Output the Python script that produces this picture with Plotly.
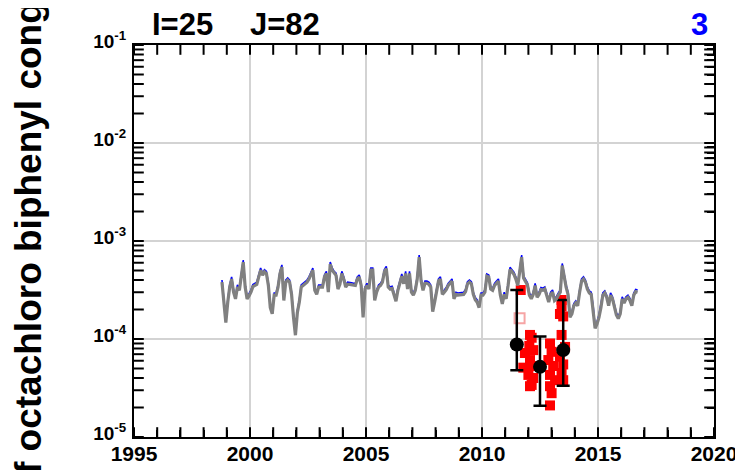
import numpy as np
import pandas as pd
import plotly.graph_objects as go

# ---------------- data ----------------
# monthly model values (units of 1e-4), Oct 1998 .. Sep 2016
model_e4 = [
    4.0, 2.5, 1.55, 2.5, 3.56, 4.3, 3.16, 2.7, 3.56, 3.3,
    4.5, 6.4, 3.56, 2.7, 2.9, 3.16, 3.6, 3.7, 3.8, 4.5,
    5.3, 4.7, 5.1, 4.9, 3.7, 2.2, 1.9, 2.95, 2.95, 3.56,
    4.9, 5.7, 2.6, 4.0, 4.2, 4.0, 3.0, 1.75, 1.15, 1.96,
    2.5, 3.56, 3.7, 3.8, 4.0, 4.3, 4.9, 5.3, 3.3, 3.0,
    3.56, 3.56, 3.56, 4.5, 4.9, 3.16, 6.1, 5.3, 4.9, 4.7,
    3.4, 3.8, 4.9, 4.3, 3.56, 3.8, 3.8, 3.75, 3.7, 3.7,
    4.3, 4.5, 3.7, 1.75, 3.4, 3.7, 3.4, 5.3, 5.3, 2.6,
    3.16, 3.56, 3.7, 4.0, 5.1, 5.5, 3.56, 3.4, 3.45, 3.0,
    2.55, 3.3, 3.85, 4.6, 3.85, 4.9, 3.4, 4.9, 3.16, 2.95,
    3.3, 4.3, 7.2, 4.1, 3.3, 3.9, 3.9, 3.8, 3.56, 2.0,
    2.5, 3.3, 4.1, 4.3, 3.0, 3.16, 3.35, 3.7, 3.9, 4.1,
    2.7, 3.0, 2.95, 2.95, 2.95, 3.0, 3.2, 3.85, 4.0, 3.85,
    3.0, 2.65, 2.5, 2.2, 2.95, 2.95, 3.16, 4.6, 4.5, 3.4,
    3.3, 3.7, 3.9, 4.1, 2.95, 2.4, 3.0, 2.7, 3.7, 5.4,
    5.1, 4.8, 4.3, 3.7, 5.1, 7.2, 4.4, 4.0, 3.75, 2.95,
    2.7, 3.0, 3.7, 2.8, 3.0, 3.35, 3.3, 3.4, 2.95, 2.5,
    3.0, 3.16, 2.6, 2.7, 2.95, 3.16, 5.9, 4.5, 3.56, 3.0,
    1.75, 1.9, 2.3, 2.45, 2.3, 3.16, 4.1, 4.3, 4.0, 3.4,
    3.1, 3.0, 2.15, 1.35, 1.5, 1.75, 2.2, 2.95, 3.1, 2.8,
    2.3, 2.95, 2.7, 2.15, 1.85, 1.7, 1.9, 2.7, 2.45, 2.7,
    2.8, 2.6, 2.3, 2.95, 3.2, 3.16,
]
model_start = "1998-10"

# individual observations (red filled squares)
obs_year = [2011.67, 2012.07, 2012.14, 2012.04, 2011.85, 2012.21, 2012.07, 2011.78,
            2012.14, 2012.00, 2012.21, 2012.14, 2012.07,
            2012.93, 2013.00, 2012.86, 2013.07, 2012.93, 2013.15, 2012.93, 2013.00, 2012.93,
            2013.43, 2013.43, 2013.36, 2013.50, 2013.43, 2013.58, 2013.36, 2013.50,
            2013.43, 2013.50]
obs_val = [3.16e-4, 1.1e-4, 1.03e-4, 8.5e-5, 7.2e-5, 7.7e-5, 6.1e-5, 5.1e-5,
           5.3e-5, 4.3e-5, 4.0e-5, 3.4e-5, 3.3e-5,
           9.0e-5, 7.4e-5, 6.1e-5, 5.3e-5, 4.3e-5, 3.8e-5, 3.3e-5, 2.8e-5, 2.1e-5,
           2.5e-4, 2.15e-4, 1.8e-4, 1.7e-4, 1.1e-4, 8.3e-5, 6.6e-5, 5.5e-5,
           4.5e-5, 3.8e-5]

# flagged observation (open pink square)
flag_year = [2011.62]
flag_val = [1.63e-4]

# annual means with ranges (black circles)
mean_year = [2011.5, 2012.5, 2013.5]
mean_val = [8.8e-5, 5.2e-5, 7.7e-5]
mean_lo = [4.8e-5, 2.09e-5, 3.34e-5]
mean_hi = [3.16e-4, 1.06e-4, 2.5e-4]

x_major = [1995, 2000, 2005, 2010, 2015, 2020]
x_minor = list(range(1995, 2021))
y_decades = [-5, -4, -3, -2, -1]

# ---------------- figure ----------------
FONT = "Liberation Sans, Arial, sans-serif"
TICK_LEN = 7
X_RANGE = [1995, 2020]
Y_RANGE = [-5, -1]
# the page body adds an 8 px offset, so the figure is 8 px smaller than the window
FIG_W, FIG_H = 735, 462
PLOT_L, PLOT_T = 134, 45          # plot-area corner as seen in the window
PLOT_W, PLOT_H = 580, 392

dates = pd.date_range(model_start, periods=len(model_e4), freq="MS")
model_x = dates.year + (dates.month - 0.5) / 12.0
model_y = [v * 1e-4 for v in model_e4]
minor_y = [m * 10.0 ** d for d in range(-5, -1) for m in range(1, 10)] + [0.1]

fig = go.Figure()

# model: blue line peeking out above the thick grey line
fig.add_trace(go.Scatter(x=model_x, y=model_y, mode="lines",
                         line=dict(color="#0000ff", width=1.6),
                         hoverinfo="skip", showlegend=False))
fig.add_trace(go.Scatter(x=model_x, y=model_y, mode="lines",
                         line=dict(color="#808080", width=3.2), yaxis="y2",
                         hoverinfo="skip", showlegend=False))

# inward tick marks (markers half-clipped at the plot edges)
tick_marker = dict(size=2 * TICK_LEN, color="black", line=dict(width=2, color="black"))
y_lo, y_hi = 10.0 ** Y_RANGE[0], 10.0 ** Y_RANGE[1]
fig.add_trace(go.Scatter(x=x_minor, y=[y_hi] * len(x_minor), mode="markers",
                         marker=dict(symbol="line-ns", **tick_marker),
                         cliponaxis=True, hoverinfo="skip", showlegend=False))
fig.add_trace(go.Scatter(x=x_minor, y=[y_lo] * len(x_minor), mode="markers", xaxis="x2",
                         marker=dict(symbol="line-ns", **tick_marker),
                         cliponaxis=True, hoverinfo="skip", showlegend=False))
fig.add_trace(go.Scatter(x=[X_RANGE[0]] * len(minor_y), y=minor_y, mode="markers",
                         marker=dict(symbol="line-ew", **tick_marker),
                         cliponaxis=True, hoverinfo="skip", showlegend=False))
fig.add_trace(go.Scatter(x=[X_RANGE[1]] * len(minor_y), y=minor_y, mode="markers", yaxis="y3",
                         marker=dict(symbol="line-ew", **tick_marker),
                         cliponaxis=True, hoverinfo="skip", showlegend=False))

fig.add_trace(go.Scatter(x=obs_year, y=obs_val, mode="markers",
                         marker=dict(symbol="square", size=10, color="#ff0000",
                                     line=dict(width=0)),
                         showlegend=False))
fig.add_trace(go.Scatter(x=flag_year, y=flag_val, mode="markers",
                         marker=dict(symbol="square-open", size=10, color="#f6a5a5",
                                     line=dict(width=2, color="#f6a5a5")),
                         showlegend=False))

err_plus = [h - v for h, v in zip(mean_hi, mean_val)]
err_minus = [v - l for v, l in zip(mean_val, mean_lo)]
fig.add_trace(go.Scatter(x=mean_year, y=mean_val, mode="markers",
                         marker=dict(symbol="circle", size=14, color="black"),
                         error_y=dict(type="data", array=err_plus, arrayminus=err_minus,
                                      color="black", thickness=2.5, width=6.5),
                         showlegend=False))

tick_axis = dict(ticks="outside", ticklen=TICK_LEN, tickwidth=2, tickcolor="black",
                 showticklabels=False, showgrid=False, showline=False, zeroline=False,
                 anchor="free", automargin=False)

fig.update_layout(
    width=FIG_W, height=FIG_H,
    margin=dict(l=PLOT_L - 8, r=FIG_W - (PLOT_L - 8) - PLOT_W, t=PLOT_T - 8,
                b=FIG_H - (PLOT_T - 8) - PLOT_H, autoexpand=False),
    paper_bgcolor="white", plot_bgcolor="white",
    font=dict(family=FONT, color="black"),
    xaxis=dict(
        range=X_RANGE, tickvals=x_major, ticktext=[str(v) for v in x_major],
        ticks="", showline=True, linecolor="black", linewidth=2, mirror=True,
        showgrid=True, gridcolor="#d3d3d3", gridwidth=2, zeroline=False,
        tickfont=dict(family=FONT, size=21, color="black", weight="bold"),
        ticklabelstandoff=-3, automargin=False,
    ),
    # bottom-edge axis whose outward ticks point up into the plot
    xaxis2=dict(range=X_RANGE, overlaying="x", side="top", position=0,
                tickvals=x_minor, **tick_axis),
    yaxis=dict(
        type="log", range=Y_RANGE,
        tickvals=[10.0 ** d for d in y_decades],
        ticktext=["10<sup>%d</sup>" % d for d in y_decades],
        ticks="", showline=True, linecolor="black", linewidth=2, mirror=True,
        showgrid=True, gridcolor="#d3d3d3", gridwidth=2, zeroline=False,
        tickfont=dict(family=FONT, size=19, color="black", weight="bold"),
        ticklabelstandoff=2, ticklabelshift=-4, automargin=False,
    ),
    yaxis2=dict(
        type="log", range=[Y_RANGE[0] + 0.022, Y_RANGE[1] + 0.022], overlaying="y",
        showticklabels=False, showgrid=False, showline=False, ticks="",
        zeroline=False, automargin=False,
    ),
    # right-edge axis whose outward ticks point left into the plot
    yaxis3=dict(type="log", range=Y_RANGE, overlaying="y", side="left", position=1,
                tickvals=minor_y, **tick_axis),
)


def px(xs):
    return (xs - PLOT_L) / PLOT_W


def py(ys):
    return (PLOT_T + PLOT_H - ys) / PLOT_H


fig.add_annotation(text="I=25", xref="paper", yref="paper",
                   x=px(150), y=py(24.6),
                   xanchor="left", yanchor="middle", showarrow=False,
                   font=dict(family=FONT, size=31, color="black", weight="bold"))
fig.add_annotation(text="J=82", xref="paper", yref="paper",
                   x=px(248), y=py(24.6),
                   xanchor="left", yanchor="middle", showarrow=False,
                   font=dict(family=FONT, size=31, color="black", weight="bold"))
fig.add_annotation(text="3", xref="paper", yref="paper",
                   x=px(699), y=py(24.6),
                   xanchor="center", yanchor="middle", showarrow=False, borderpad=0,
                   font=dict(family=FONT, size=31, color="#0000ff", weight="bold"))
fig.add_annotation(text="Mixing ratio of octachloro biphenyl congener",
                   xref="paper", yref="paper", textangle=-90,
                   x=px(28), y=py(717),
                   xanchor="center", yanchor="bottom", showarrow=False,
                   font=dict(family=FONT, size=37, color="black", weight="bold"))

fig.write_html("out.html")
